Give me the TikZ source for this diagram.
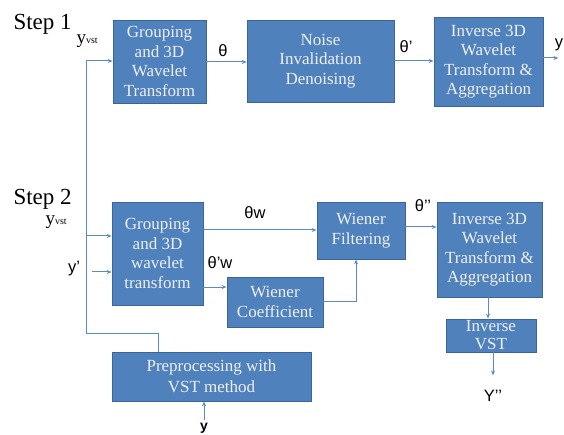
\documentclass[tikz,border=0pt]{standalone}
\usepackage{fontspec}
\setmainfont{Liberation Serif}
\newfontfamily\sansf{Liberation Sans}
\usetikzlibrary{arrows.meta,calc}
\definecolor{boxfill}{HTML}{4F81BD}
\definecolor{boxline}{HTML}{3A659A}
\definecolor{wire}{HTML}{5A8AC6}
\begin{document}
\begin{tikzpicture}[x=1pt,y=-1pt,
  box/.style={draw=boxline,fill=boxfill,text=white!94!black,align=center,inner sep=0pt,line width=0.8pt,font=\fontsize{17}{19.5}\selectfont},
  wline/.style={draw=wire,line width=1pt},
  arr/.style={wline,-{Stealth[length=5pt,width=4pt]}},
  steplbl/.style={anchor=base west,font=\fontsize{23}{23}\selectfont},
  glbl/.style={font=\sansf\fontsize{16.5}{16.5}\selectfont}]
\useasboundingbox (0,0) rectangle (564,435);
% boxes
\node[box,minimum width=93pt,minimum height=83pt] (A) at (159.5,61.5) {Grouping\\and 3D\\Wavelet\\Transform};
\node[box,minimum width=147pt,minimum height=82pt] (B) at (320.5,61) {Noise\\Invalidation\\Denoising};
\node[box,minimum width=109pt,minimum height=89pt] (C) at (488.5,61.5) {Inverse 3D\\Wavelet\\Transform \&\\Aggregation};
\node[box,minimum width=91pt,minimum height=103pt] (D) at (157.5,253.5) {Grouping\\and 3D\\wavelet\\transform};
\node[box,minimum width=88pt,minimum height=57pt] (WF) at (361,230.5) {Wiener\\Filtering};
\node[box,minimum width=96pt,minimum height=50pt] (WC) at (275,302) {Wiener\\Coefficient};
\node[box,minimum width=105pt,minimum height=95pt] (E) at (489.5,249.5) {Inverse 3D\\Wavelet\\Transform \&\\Aggregation};
\node[box,minimum width=90pt,minimum height=33pt,font=\fontsize{17}{18}\selectfont] (IV) at (491,335.5) {Inverse\\VST};
\node[box,minimum width=199pt,minimum height=49pt,font=\fontsize{17}{21}\selectfont] (P) at (211.5,376.5) {Preprocessing with\\VST method};
% labels
\node[steplbl] (s1) at (10,30) {Step 1};
\node[steplbl] (s2) at (10,205) {Step 2};
\node[anchor=base west] (yv1) at (73,44) {{\fontsize{19}{19}\selectfont y}{\fontsize{10}{10}\selectfont vst}};
\node[anchor=base west] (yv2) at (42,225) {{\fontsize{19}{19}\selectfont y}{\fontsize{10}{10}\selectfont vst}};
\node[glbl] (yp) at (74,269) {y’};
\node[glbl] (t1) at (223,51) {θ};
\node[glbl] (t2) at (406,47) {θ’};
\node[glbl] (tw) at (255,213) {θw};
\node[glbl] (tpw) at (220,263) {θ’w};
\node[glbl] (tpp) at (423,206) {θ’’};
\node[glbl] (yout) at (559,45) {y};
\node[glbl] (ypp) at (493,396) {Y’’};
\node[glbl,font=\sansf\bfseries\fontsize{14}{14}\selectfont] (yin) at (204,428) {y};
% coordinates
\coordinate (v1) at (86,61);
\coordinate (v2) at (86,236);
\coordinate (vb) at (86,333);
\coordinate (ys) at (92,272);
\coordinate (cs) at (203,287);
\coordinate (ye) at (204,420);
% connectors
\draw[arr] (v1) -- (v1 -| A.west);
\draw[wline] (v1) -- (vb) -| ($(P.north west)+(47,0)$);
\draw[arr] (v2) -- (v2 -| D.west);
\draw[arr] (ys) -- (ys -| D.west);
\draw[arr] (A.east |- 0,62) -- (B.west |- 0,62);
\draw[arr] (B.east) -- (B.east -| C.west);
\draw[arr] (C.east |- 0,58) -- ++(15,0);
\draw[arr] (D.east |- 0,230) -- (WF.west |- 0,230);
\draw[arr] (cs) -- (cs -| WC.west);
\draw[arr] (WC.east |- 0,301) -| (WF.south -| 356,0);
\draw[arr] (WF.east |- 0,227) -- (E.west |- 0,227);
\draw[arr] (E.south -| 488,0) -- (IV.north -| 488,0);
\draw[arr] (IV.south -| 493,0) -- ++(0,23);
\draw[arr] (ye) -- (ye |- P.south);
\end{tikzpicture}
\end{document}
